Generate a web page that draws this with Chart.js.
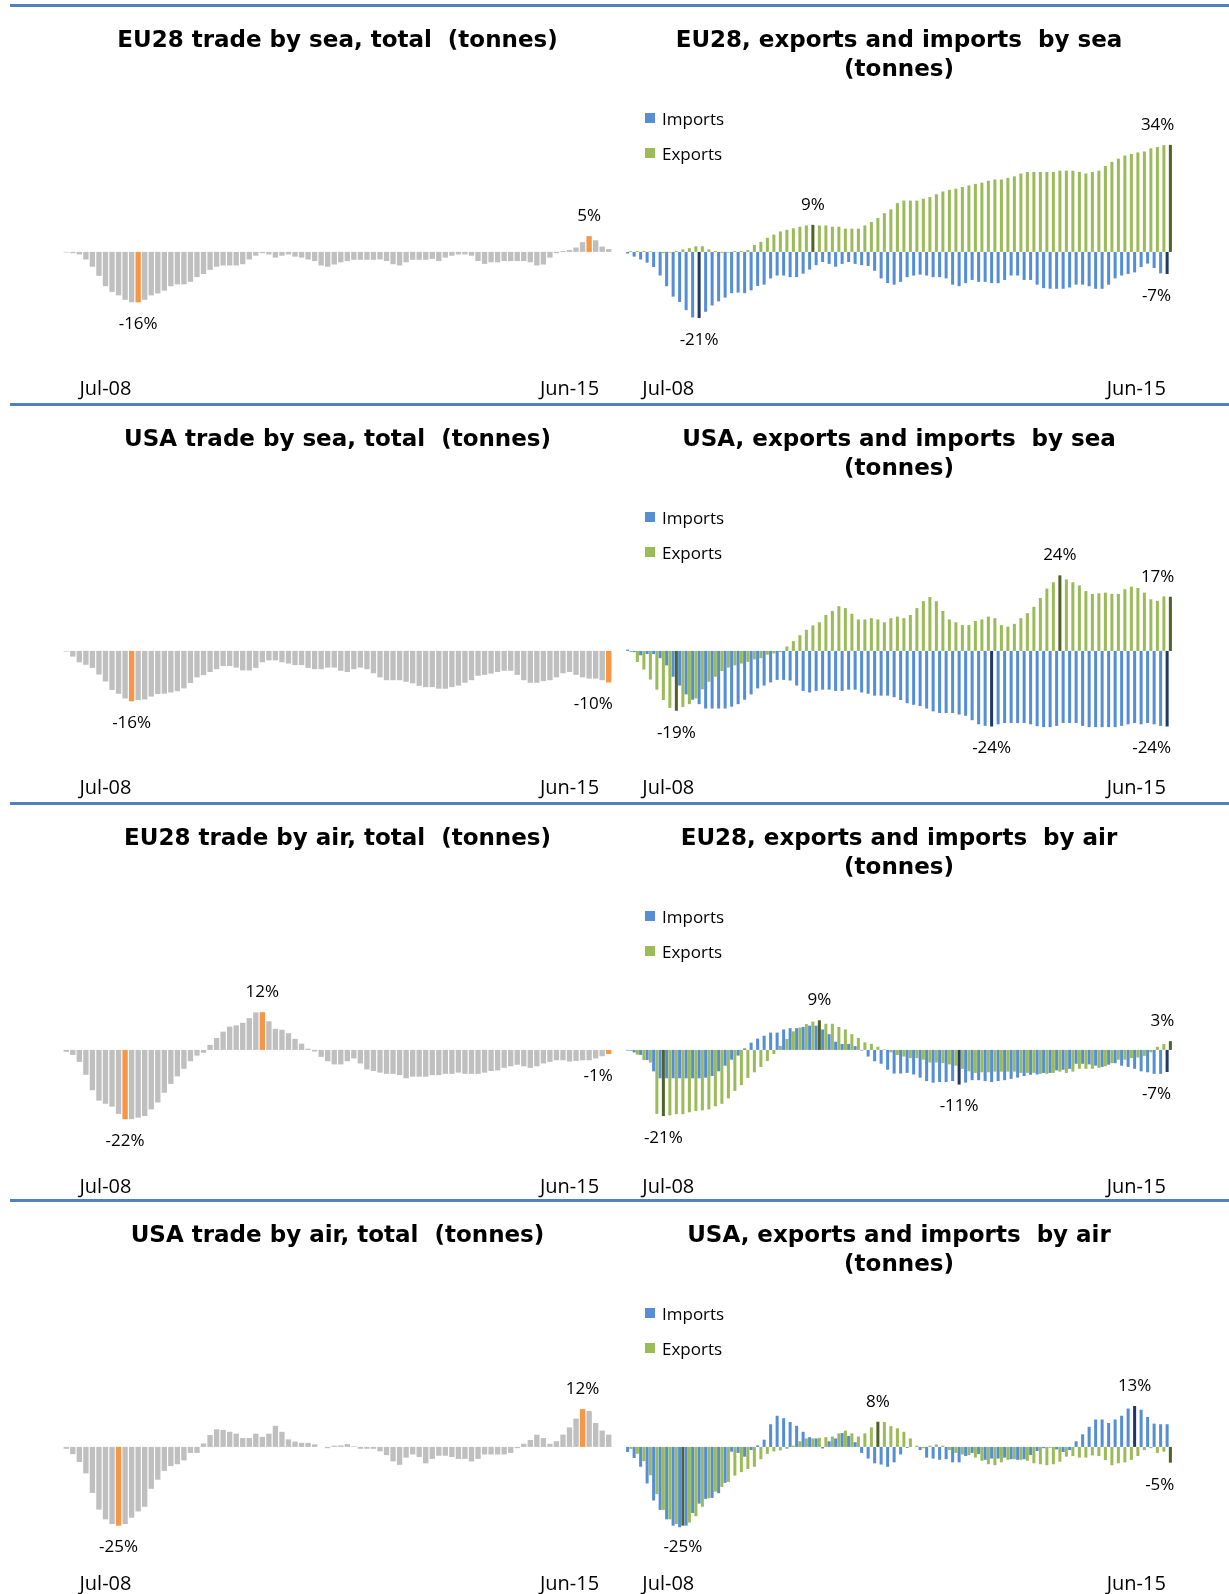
<!DOCTYPE html>
<html>
<head>
<meta charset="utf-8">
<script src="https://cdn.jsdelivr.net/npm/chart.js@4.4.1/dist/chart.umd.min.js"></script>
<style>
  html, body { margin: 0; padding: 0; background: #fff; }
  body { width: 1229px; height: 1594px; position: relative; overflow: hidden; }
  .rule { position: absolute; left: 10px; width: 1219px; height: 3px; background: #4F81BD; }
  canvas { position: absolute; }
  .legend-item { position: absolute; height: 22px; line-height: 22px; font: 17px "Open Sans", sans-serif; color: #000; white-space: nowrap; }
  .legend-item span { position: absolute; left: 0; top: 6px; width: 10px; height: 10px; }
  .legend-item b { position: absolute; left: 17px; top: 0; font-weight: normal; }
</style>
</head>
<body>
<script>
// months Jul-08 .. Jun-15
const monthNames = ['Jan', 'Feb', 'Mar', 'Apr', 'May', 'Jun', 'Jul', 'Aug', 'Sep', 'Oct', 'Nov', 'Dec']
const months = []
for (let y = 2008; y <= 2015; y++) {
    for (let m = 0; m < 12; m++) {
        if ((y === 2008 && m < 6) || (y === 2015 && m > 5)) continue
        months.push(monthNames[m] + '-' + String(y).slice(2))
    }
}
// only the first and last month are written under each panel
const tickLabels = [months[0], months[months.length - 1]]

// % change, EU28 by sea
const eu28SeaTotal = [
    -0.2, -0.4, -0.8, -2.4, -4.7, -7.6, -10.9, -12.7, -13.8, -15.2,
    -16.0, -16.0, -15.2, -13.8, -13.2, -12.3, -10.9, -10.3, -10.3, -9.5,
    -8.0, -7.0, -5.7, -4.7, -4.3, -4.3, -4.3, -3.9, -2.4, -1.2,
    -0.4, -0.8, -1.8, -1.2, -0.8, -1.5, -1.8, -2.4, -2.9, -4.3,
    -4.7, -4.0, -3.3, -2.9, -2.5, -2.5, -2.5, -2.5, -2.4, -2.9,
    -3.9, -4.3, -3.3, -2.5, -2.5, -2.5, -2.2, -2.9, -1.8, -1.2,
    -0.8, -0.8, -1.2, -2.9, -3.8, -3.3, -3.3, -2.9, -2.9, -2.9,
    -2.9, -3.3, -4.3, -4.0, -1.8, -0.4, 0.3, 0.6, 1.4, 3.1,
    5.0, 3.7, 1.7, 0.9
]
const eu28SeaTotalMarks = [11, 80]
const eu28SeaImports = [
    -0.5, -1.5, -2.4, -3.4, -4.8, -7.5, -10.9, -14.2, -15.9, -18.5,
    -20.8, -21.0, -19.0, -17.0, -15.7, -14.5, -13.1, -12.9, -13.1, -12.2,
    -10.8, -10.4, -8.4, -7.5, -7.5, -8.0, -8.0, -6.9, -5.6, -4.2,
    -3.2, -3.8, -4.7, -3.8, -3.2, -3.8, -4.2, -4.5, -6.0, -8.4,
    -9.9, -10.4, -9.5, -8.0, -7.5, -7.2, -7.5, -8.0, -8.0, -8.4,
    -10.4, -10.9, -9.9, -8.9, -9.5, -9.5, -9.9, -9.9, -8.9, -7.5,
    -7.5, -8.9, -8.9, -10.4, -11.5, -11.7, -11.7, -11.7, -11.3, -10.4,
    -10.4, -10.9, -11.7, -11.7, -10.4, -8.4, -7.5, -7.0, -6.5, -4.8,
    -3.7, -5.1, -6.8, -7.0
]
const eu28SeaImportsMarks = [11, 83]
const eu28SeaExports = [
    0.3, 0.3, 0.3, 0.2, -0.1, -0.4, -0.2, 0.3, 0.8, 1.2,
    1.8, 1.8, 0.8, 0.3, -0.3, -0.2, 0.3, 0.3, 0.6, 2.2,
    3.2, 4.5, 5.5, 6.5, 7.0, 7.5, 8.0, 8.4, 8.6, 8.4,
    8.4, 8.0, 8.0, 7.4, 7.4, 7.4, 8.4, 9.5, 10.8, 12.3,
    13.5, 15.5, 16.3, 16.3, 16.3, 16.9, 17.4, 18.3, 19.2, 19.7,
    20.1, 20.6, 21.1, 21.6, 22.0, 22.6, 23.0, 23.0, 23.5, 24.0,
    24.9, 25.4, 25.4, 25.4, 25.4, 25.4, 25.8, 25.8, 25.8, 25.4,
    24.9, 25.4, 25.8, 27.3, 28.6, 29.6, 30.6, 31.1, 31.6, 31.9,
    32.9, 33.3, 33.9, 34.0
]
const eu28SeaExportsMarks = [28, 83]

// % change, USA by sea
const usaSeaTotal = [
    -0.2, -1.8, -3.6, -4.4, -5.4, -7.5, -9.7, -12.4, -13.6, -15.1,
    -16.0, -15.6, -15.4, -14.5, -13.7, -13.6, -13.2, -12.8, -11.9, -10.2,
    -8.4, -7.7, -6.7, -5.8, -4.8, -4.8, -5.3, -6.2, -6.2, -5.4,
    -3.6, -3.0, -3.0, -3.6, -4.0, -4.5, -4.5, -5.4, -5.8, -5.8,
    -5.3, -5.3, -6.3, -6.7, -5.8, -5.3, -5.8, -7.1, -8.4, -9.3,
    -9.3, -9.3, -9.8, -10.3, -11.1, -11.5, -11.5, -12.0, -12.0, -11.5,
    -11.0, -10.1, -9.3, -7.9, -7.6, -7.2, -6.7, -6.3, -6.3, -7.6,
    -9.3, -10.1, -10.1, -9.6, -9.3, -8.4, -7.1, -6.7, -7.6, -8.4,
    -8.8, -8.8, -9.3, -10.0
]
const usaSeaTotalMarks = [10, 83]
const usaSeaImports = [
    0.4, -0.4, -1.4, -1.0, -1.0, -2.3, -4.6, -8.2, -11.0, -13.8,
    -15.5, -16.9, -18.3, -18.3, -18.3, -18.3, -17.7, -16.9, -15.5, -13.8,
    -11.9, -11.0, -10.0, -9.2, -9.2, -9.4, -11.0, -12.7, -13.2, -12.7,
    -12.3, -12.3, -12.7, -12.7, -12.3, -12.3, -13.2, -13.6, -14.2, -14.2,
    -14.2, -14.7, -15.6, -16.6, -17.1, -17.5, -18.3, -19.2, -19.7, -19.7,
    -19.7, -20.2, -20.6, -22.0, -23.3, -23.8, -24.0, -23.3, -22.9, -22.9,
    -22.9, -22.9, -23.3, -23.9, -24.2, -24.2, -23.8, -22.9, -22.9, -22.9,
    -23.8, -24.2, -24.2, -24.2, -24.2, -24.2, -23.8, -23.3, -22.9, -23.3,
    -22.9, -23.3, -23.8, -24.0
]
const usaSeaImportsMarks = [56, 83]
const usaSeaExports = [
    -0.3, -3.5, -5.9, -9.1, -12.3, -15.6, -18.1, -19.0, -17.8, -16.9,
    -15.1, -12.2, -9.8, -8.2, -6.4, -5.3, -4.6, -4.0, -3.5, -2.7,
    -2.3, -1.2, -0.8, -0.4, 1.4, 3.1, 5.0, 6.7, 8.1, 9.1,
    11.4, 12.7, 14.2, 13.6, 11.8, 10.0, 10.0, 10.4, 10.0, 9.1,
    10.4, 10.9, 10.4, 11.4, 13.6, 15.8, 17.1, 15.8, 12.7, 10.0,
    9.1, 8.2, 8.2, 9.5, 10.0, 10.9, 10.4, 8.2, 7.7, 8.6,
    10.4, 12.0, 14.0, 16.8, 19.8, 21.8, 24.0, 22.7, 21.8, 20.8,
    19.0, 18.1, 18.3, 18.5, 18.1, 18.1, 19.6, 20.4, 20.0, 18.5,
    16.4, 15.9, 17.3, 17.2
]
const usaSeaExportsMarks = [7, 66, 83]

// % change, EU28 by air
const eu28AirTotal = [
    -0.6, -1.6, -3.8, -7.9, -12.8, -16.1, -17.1, -18.0, -20.3, -22.0,
    -22.0, -21.5, -21.0, -18.9, -16.7, -13.6, -10.8, -8.4, -6.0, -3.6,
    -1.8, -0.9, 1.6, 3.8, 5.8, 7.4, 7.8, 8.6, 10.1, 11.9,
    12.0, 9.1, 6.7, 6.4, 5.3, 3.5, 2.0, 0.4, -0.5, -2.2,
    -3.6, -4.6, -4.6, -3.6, -2.7, -4.3, -6.2, -6.7, -7.2, -7.6,
    -7.6, -8.0, -9.0, -8.5, -8.5, -8.5, -8.0, -8.0, -7.6, -7.6,
    -7.2, -7.6, -7.6, -7.6, -7.2, -6.7, -6.5, -5.7, -5.2, -4.7,
    -5.2, -5.7, -5.2, -4.3, -3.8, -3.3, -3.3, -3.7, -3.5, -3.3,
    -3.3, -2.7, -2.0, -1.3
]
const eu28AirTotalMarks = [9, 30, 83]
const eu28AirImports = [
    -0.2, -0.8, -1.6, -3.2, -6.8, -9.0, -9.0, -9.0, -9.0, -9.0,
    -9.0, -9.0, -8.8, -8.3, -6.8, -5.0, -3.1, -1.8, 0.5, 2.3,
    3.6, 4.5, 5.5, 5.5, 6.5, 6.9, 6.9, 7.3, 7.7, 7.7,
    6.5, 5.0, 2.6, 1.9, 1.9, 1.2, -0.2, -2.1, -3.6, -4.4,
    -6.3, -7.5, -7.5, -7.3, -7.8, -8.8, -9.9, -10.4, -10.2, -10.2,
    -9.9, -11.0, -10.4, -9.6, -9.6, -9.9, -10.2, -9.9, -9.6, -9.2,
    -8.8, -8.3, -7.9, -7.8, -7.3, -7.3, -6.5, -6.3, -6.0, -4.4,
    -4.4, -4.6, -5.0, -5.4, -4.7, -4.2, -5.0, -5.4, -6.0, -6.8,
    -7.1, -7.6, -7.6, -7.0
]
const eu28AirImportsMarks = [51, 83]
const eu28AirExports = [
    -0.3, -1.5, -3.2, -4.0, -20.3, -21.0, -20.8, -20.4, -20.4, -19.8,
    -19.4, -19.2, -18.9, -17.9, -17.1, -15.4, -13.0, -11.2, -8.9, -7.1,
    -5.4, -3.5, -1.3, 1.3, 3.5, 5.9, 7.1, 8.2, 9.0, 9.4,
    8.3, 8.3, 7.3, 6.5, 5.0, 3.8, 2.4, 1.9, 1.0, 0.2,
    -0.8, -1.6, -2.1, -2.6, -2.6, -3.1, -4.0, -4.0, -4.2, -4.6,
    -5.0, -6.0, -6.8, -7.3, -7.1, -7.1, -6.9, -6.9, -6.9, -6.9,
    -7.3, -7.3, -7.3, -7.6, -7.6, -7.3, -6.9, -7.3, -6.9, -6.0,
    -6.0, -6.0, -5.7, -5.2, -4.2, -3.1, -3.1, -2.6, -2.4, -1.9,
    -0.8, 1.0, 1.9, 2.8
]
const eu28AirExportsMarks = [5, 29, 83]

// % change, USA by air
const usaAirTotal = [
    -0.6, -2.3, -4.8, -8.4, -14.6, -19.9, -23.0, -24.5, -25.0, -24.5,
    -22.5, -20.5, -19.0, -13.3, -10.4, -7.6, -6.1, -5.5, -4.3, -1.9,
    -1.9, 1.1, 3.8, 5.6, 5.4, 4.8, 4.2, 2.8, 2.8, 4.2,
    3.2, 4.2, 6.7, 4.8, 2.4, 1.7, 1.3, 1.3, 0.8, 0.0,
    -0.4, 0.4, 0.5, 0.9, 0.2, -0.6, -0.6, -0.6, -1.4, -2.6,
    -4.6, -5.7, -3.4, -2.4, -3.2, -5.2, -3.8, -2.8, -2.8, -3.2,
    -3.8, -3.8, -4.6, -3.8, -2.4, -2.4, -2.4, -2.4, -1.9, -0.4,
    1.0, 2.2, 3.9, 2.8, 1.0, 1.8, 3.9, 6.2, 9.0, 12.0,
    11.4, 7.6, 5.2, 3.9
]
const usaAirTotalMarks = [8, 79]
const usaAirImports = [
    -1.6, -3.5, -6.3, -11.6, -17.0, -20.0, -23.0, -25.0, -25.5, -25.0,
    -21.0, -18.0, -16.5, -16.2, -14.7, -11.4, -1.5, -1.9, -3.1, -1.0,
    0.5, 2.3, 7.2, 9.9, 9.1, 7.9, 6.7, 4.8, 3.1, 2.7,
    -0.5, 1.8, 2.7, 4.4, 3.5, 1.5, -1.9, -3.7, -5.2, -5.6,
    -6.3, -4.9, -2.4, -0.3, 0.0, -1.0, -3.4, -3.7, -4.1, -3.9,
    -4.9, -4.9, -2.9, -1.9, -2.3, -4.1, -3.7, -3.7, -3.4, -3.9,
    -4.1, -3.9, -2.6, -1.3, -0.4, -0.2, -0.8, -1.6, -1.0, 1.8,
    4.0, 6.4, 8.7, 8.7, 7.6, 8.7, 9.9, 12.2, 13.0, 11.8,
    9.5, 7.4, 7.2, 7.2
]
const usaAirImportsMarks = [78]
const usaAirExports = [
    -0.6, -2.2, -4.5, -9.0, -15.0, -20.0, -23.0, -24.5, -25.0, -24.0,
    -22.0, -19.0, -16.3, -14.2, -12.7, -11.1, -9.1, -8.0, -7.0, -6.3,
    -3.9, -2.2, -1.4, -1.1, -0.6, 0.4, 1.8, 2.7, 2.7, 2.9,
    3.1, 3.3, 4.3, 5.2, 4.3, 3.3, 4.3, 6.2, 8.0, 7.9,
    6.6, 5.9, 4.8, 2.7, 0.4, -0.4, 0.4, 0.8, 0.4, -1.0,
    -1.9, -2.4, -2.6, -3.4, -4.4, -5.5, -5.8, -4.9, -4.1, -3.9,
    -4.1, -4.4, -5.2, -5.5, -5.8, -5.5, -4.7, -3.1, -2.9, -3.4,
    -3.4, -2.7, -2.9, -4.2, -5.8, -5.2, -4.9, -4.1, -2.9, -1.0,
    -0.4, -1.9, -1.5, -5.0
]
const usaAirExportsMarks = [8, 38, 83]

const GREY = '#BFBFBF', ORANGE = '#F79646'
const BLUE = '#558ED5', NAVY = '#1F3864'
const GREEN = '#9BBB59', OLIVE = '#4F6228'

const rowTops = [5, 404, 803, 1200]

// value labels on the highlighted bars
const valueLabels = {
    id: 'valueLabels',
    afterDatasetsDraw(chart) {
        const ctx = chart.ctx
        ctx.save()
        ctx.font = '17px "Open Sans"'
        ctx.fillStyle = '#000'
        ctx.textBaseline = 'middle'
        chart.data.datasets.forEach((ds, di) => {
            const meta = chart.getDatasetMeta(di)
            ds.marks.forEach(i => {
                const bar = meta.data[i]
                const v = ds.data[i]
                const last = i === ds.data.length - 1
                ctx.textAlign = last ? 'right' : 'center'
                const x = last ? bar.x + 4 : bar.x
                const y = v >= 0 ? bar.y - 20 : bar.y + 22
                ctx.fillText(Math.round(v) + '%', x, y)
            })
        })
        ctx.restore()
    },
}

function bars(label, data, marks, base, dark, pct) {
    return {
        label,
        data,
        marks,
        backgroundColor: c => (marks.includes(c.dataIndex) ? dark : base),
        borderWidth: 0,
        barPercentage: pct,
        categoryPercentage: 1,
    }
}

// legend items come from the chart's own label generator, placed top-left of the panel
function htmlLegend(chart, row) {
    const items = Chart.defaults.plugins.legend.labels.generateLabels(chart)
    items.forEach((it, k) => {
        const d = document.createElement('div')
        d.className = 'legend-item'
        d.style.left = '645px'
        d.style.top = rowTops[row] + 102 + k * 35 + 'px'
        const sw = document.createElement('span')
        sw.style.background = it.fillStyle
        const tx = document.createElement('b')
        tx.textContent = it.text
        d.appendChild(sw)
        d.appendChild(tx)
        document.body.appendChild(d)
    })
}

function panel(row, side, title, datasets) {
    const left = side === 'left'
    const canvas = document.createElement('canvas')
    canvas.width = left ? 619 : 610
    canvas.height = 387
    canvas.style.left = (left ? 0 : 619) + 'px'
    canvas.style.top = rowTops[row] + 8 + 'px'
    document.body.appendChild(canvas)

    const tickAt = left ? [6, 77] : [6, 78]

    const chart = new Chart(canvas, {
        type: 'bar',
        data: { labels: months, datasets },
        options: {
            responsive: false,
            animation: false,
            layout: { padding: { left: left ? 63 : 7, right: left ? 7 : 57, top: 0, bottom: 0 } },
            plugins: {
                title: {
                    display: true,
                    text: title,
                    color: '#000',
                    font: { family: 'DejaVu Sans', size: 23, weight: 'bold', lineHeight: 1.283 },
                    padding: { top: 12.85, bottom: title.length > 1 ? 0.15 : 29.65 },
                },
                legend: { display: false },
                tooltip: { enabled: false },
            },
            scales: {
                x: {
                    grid: { display: false, drawTicks: false },
                    border: { display: false },
                    ticks: {
                        autoSkip: false,
                        maxRotation: 0,
                        minRotation: 0,
                        padding: 1,
                        color: '#000',
                        font: { family: 'Open Sans', size: 20 },
                        callback: (v, i) => (i === tickAt[0] ? tickLabels[0] : i === tickAt[1] ? tickLabels[1] : ''),
                    },
                    afterFit: s => {
                        s.height = 24
                    },
                },
                y: { display: false, min: -39.4, max: 53.0 },
            },
        },
        plugins: [valueLabels],
    })
    if (!left) htmlLegend(chart, row)
}

rowTops.forEach(t => {
    const d = document.createElement('div')
    d.className = 'rule'
    d.style.top = t - 1 + 'px'
    document.body.appendChild(d)
})

panel(0, 'left', ['EU28 trade by sea, total  (tonnes)'], [
    bars('Total', eu28SeaTotal, eu28SeaTotalMarks, GREY, ORANGE, 0.82),
])
panel(0, 'right', ['EU28, exports and imports  by sea', '(tonnes)'], [
    bars('Imports', eu28SeaImports, eu28SeaImportsMarks, BLUE, NAVY, 0.93),
    bars('Exports', eu28SeaExports, eu28SeaExportsMarks, GREEN, OLIVE, 0.93),
])
panel(1, 'left', ['USA trade by sea, total  (tonnes)'], [
    bars('Total', usaSeaTotal, usaSeaTotalMarks, GREY, ORANGE, 0.82),
])
panel(1, 'right', ['USA, exports and imports  by sea', '(tonnes)'], [
    bars('Imports', usaSeaImports, usaSeaImportsMarks, BLUE, NAVY, 0.93),
    bars('Exports', usaSeaExports, usaSeaExportsMarks, GREEN, OLIVE, 0.93),
])
panel(2, 'left', ['EU28 trade by air, total  (tonnes)'], [
    bars('Total', eu28AirTotal, eu28AirTotalMarks, GREY, ORANGE, 0.82),
])
panel(2, 'right', ['EU28, exports and imports  by air', '(tonnes)'], [
    bars('Imports', eu28AirImports, eu28AirImportsMarks, BLUE, NAVY, 0.93),
    bars('Exports', eu28AirExports, eu28AirExportsMarks, GREEN, OLIVE, 0.93),
])
panel(3, 'left', ['USA trade by air, total  (tonnes)'], [
    bars('Total', usaAirTotal, usaAirTotalMarks, GREY, ORANGE, 0.82),
])
panel(3, 'right', ['USA, exports and imports  by air', '(tonnes)'], [
    bars('Imports', usaAirImports, usaAirImportsMarks, BLUE, NAVY, 0.93),
    bars('Exports', usaAirExports, usaAirExportsMarks, GREEN, OLIVE, 0.93),
])
</script>
</body>
</html>
